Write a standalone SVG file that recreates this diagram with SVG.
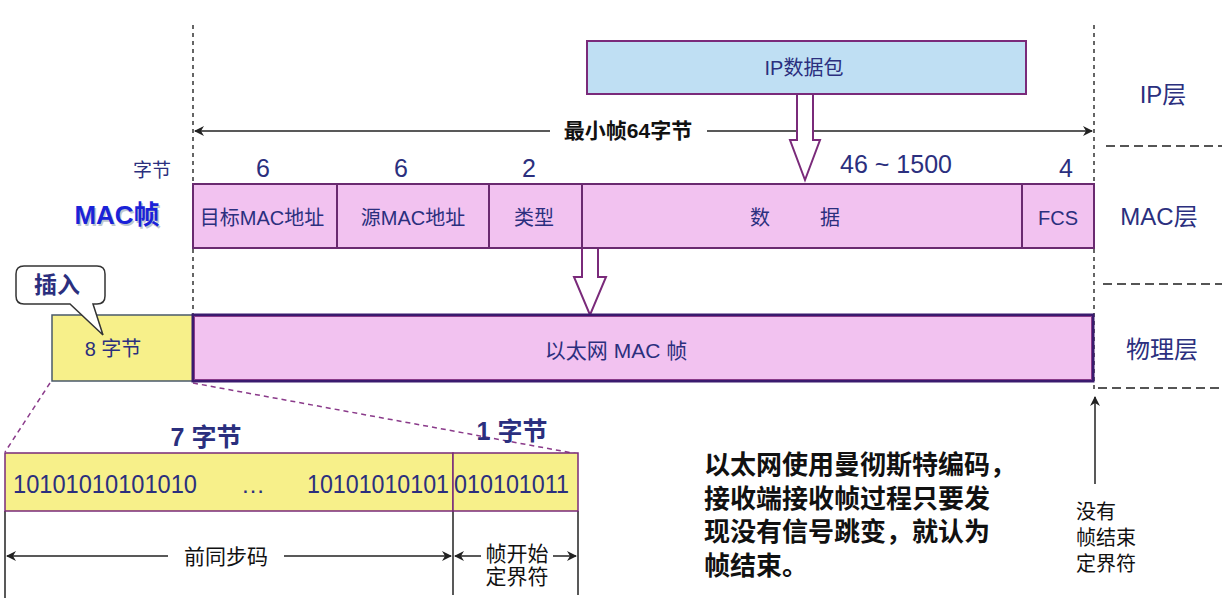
<svg xmlns="http://www.w3.org/2000/svg" width="1224" height="615" viewBox="0 0 1224 615">
<defs>
<style>
.t{font-family:"Liberation Sans","Noto Sans CJK SC",sans-serif;fill:#2b2f7e;}
.cell{fill:#f2c2f0;stroke:#6a2a70;stroke-width:2;}
.yel{fill:#f7f08a;stroke:#4a5a6a;stroke-width:1.5;}
.dash{stroke:#333;stroke-width:1.5;stroke-dasharray:4,4;fill:none;}
.hdash{stroke:#555;stroke-width:2;stroke-dasharray:9,5;fill:none;}
.pdash{stroke:#8a3a8a;stroke-width:1.5;stroke-dasharray:5,4;fill:none;}
.ln{stroke:#222;stroke-width:1.5;fill:none;}
.hollow{fill:#fff;stroke:#7a2a7a;stroke-width:2;}
.k{font-family:"Liberation Sans","Noto Sans CJK SC",sans-serif;fill:#111;}
</style>
<marker id="ah" viewBox="0 0 10 10" refX="9" refY="5" markerWidth="10" markerHeight="10" markerUnits="userSpaceOnUse" orient="auto-start-reverse">
<path d="M0,0 L10,5 L0,10 L3,5 Z" fill="#222"/>
</marker>
</defs>

<g id="guides">
<line class="dash" x1="193" y1="25" x2="193" y2="315"/>
<line class="dash" x1="1094" y1="25" x2="1094" y2="390"/>
<line class="hdash" x1="1106" y1="146" x2="1222" y2="146"/>
<line class="hdash" x1="1103" y1="284" x2="1222" y2="284"/>
<line class="hdash" x1="1098" y1="388" x2="1222" y2="388"/>
</g>

<g id="layer-labels">
<text class="t" x="1163" y="103" font-size="24" text-anchor="middle">IP层</text>
<text class="t" x="1159" y="225" font-size="24" text-anchor="middle">MAC层</text>
<text class="t" x="1162" y="358" font-size="24" text-anchor="middle">物理层</text>
</g>

<g id="ip-packet">
<rect x="587" y="41" width="439" height="53" fill="#bfdff3" stroke="#7a2a7a" stroke-width="2"/>
<text class="t" x="804" y="75" font-size="20" text-anchor="middle">IP数据包</text>
</g>

<g id="connectors">
<line class="ln" x1="195" y1="131" x2="550" y2="131" marker-start="url(#ah)"/>
<line class="ln" x1="707" y1="131" x2="1092" y2="131" marker-end="url(#ah)"/>
<path class="hollow" d="M797,94 L813,94 L813,140 L820,140 L805,180 L790,140 L797,140 Z"/>
<path class="hollow" d="M582,248 L598,248 L598,277 L606,277 L590,315 L574,277 L582,277 Z"/>
<line class="pdash" x1="50" y1="383" x2="5" y2="452"/>
<line class="pdash" x1="193" y1="383" x2="578" y2="454"/>
<line class="ln" x1="1095" y1="484" x2="1095" y2="397" marker-end="url(#ah)"/>
<line class="ln" x1="5" y1="511" x2="5" y2="598"/>
<line class="ln" x1="453" y1="511" x2="453" y2="595"/>
<line class="ln" x1="578" y1="511" x2="578" y2="595"/>
<line class="ln" x1="7" y1="556" x2="168" y2="556" marker-start="url(#ah)"/>
<line class="ln" x1="284" y1="556" x2="451" y2="556" marker-end="url(#ah)"/>
<line class="ln" x1="455" y1="556" x2="481" y2="556" marker-start="url(#ah)"/>
<line class="ln" x1="553" y1="556" x2="576" y2="556" marker-end="url(#ah)"/>
</g>

<g id="min-frame-label">
<text class="k" x="628" y="138" font-size="21" font-weight="bold" text-anchor="middle">最小帧64字节</text>
</g>

<g id="byte-counts">
<text class="t" x="152" y="177" font-size="19" text-anchor="middle">字节</text>
<text class="t" x="263" y="177" font-size="25" text-anchor="middle">6</text>
<text class="t" x="401" y="177" font-size="25" text-anchor="middle">6</text>
<text class="t" x="529" y="177" font-size="25" text-anchor="middle">2</text>
<text class="t" x="896" y="173" font-size="25" text-anchor="middle">46 ~ 1500</text>
<text class="t" x="1066" y="177" font-size="25" text-anchor="middle">4</text>
</g>

<g id="mac-frame-label">
<text x="118.5" y="225.5" font-size="26" font-weight="bold" text-anchor="middle" font-family="Liberation Sans, Noto Sans CJK SC, sans-serif" fill="#8899aa" opacity="0.55">MAC帧</text>
<text x="117" y="224" font-size="26" font-weight="bold" text-anchor="middle" font-family="Liberation Sans, Noto Sans CJK SC, sans-serif" fill="#1a22d8">MAC帧</text>
</g>

<g id="mac-frame">
<rect class="cell" x="193" y="184" width="144" height="64"/>
<rect class="cell" x="337" y="184" width="152" height="64"/>
<rect class="cell" x="489" y="184" width="93" height="64"/>
<rect class="cell" x="582" y="184" width="440" height="64"/>
<rect class="cell" x="1022" y="184" width="72" height="64"/>
<text class="t" x="262" y="225" font-size="20" text-anchor="middle">目标MAC地址</text>
<text class="t" x="413" y="225" font-size="20" text-anchor="middle">源MAC地址</text>
<text class="t" x="534" y="225" font-size="20" text-anchor="middle">类型</text>
<text class="t" x="760" y="225" font-size="20" text-anchor="middle">数</text>
<text class="t" x="830" y="225" font-size="20" text-anchor="middle">据</text>
<text class="t" x="1058" y="225" font-size="20" text-anchor="middle">FCS</text>
</g>

<g id="preamble-8">
<rect class="yel" x="52" y="315" width="141" height="66"/>
<text class="t" x="113" y="356" font-size="20" text-anchor="middle">8 字节</text>
</g>

<g id="callout">
<path d="M24,266 L97,266 Q105,266 105,274 L105,296 Q105,304 97,304 L93,304 L103,335 L70,304 L24,304 Q16,304 16,296 L16,274 Q16,266 24,266 Z" fill="#fff" stroke="#333" stroke-width="1.5"/>
<text class="t" x="57" y="293" font-size="23" font-weight="bold" text-anchor="middle">插入</text>
</g>

<g id="ethernet-mac-frame">
<rect x="193" y="315" width="900" height="66" fill="#f2c2f0" stroke="#3a1a6e" stroke-width="3"/>
<rect x="194.5" y="316.5" width="897" height="63" fill="none" stroke="#8a3a8a" stroke-width="1"/>
<text class="t" x="616" y="358" font-size="21" text-anchor="middle">以太网 MAC 帧</text>
</g>

<g id="preamble-detail">
<rect x="5" y="453" width="448" height="58" fill="#f7f08a" stroke="#7a2a7a" stroke-width="1.5"/>
<rect x="453" y="453" width="125" height="58" fill="#f7f08a" stroke="#7a2a7a" stroke-width="1.5"/>
<text class="t" x="206" y="446" font-size="25" font-weight="bold" text-anchor="middle">7 字节</text>
<text class="t" x="512" y="440" font-size="25" font-weight="bold" text-anchor="middle">1 字节</text>
<text class="t" x="13" y="493" font-size="25" textLength="184" lengthAdjust="spacingAndGlyphs">10101010101010</text>
<text class="t" x="253" y="493" font-size="24" text-anchor="middle">…</text>
<text class="t" x="307" y="493" font-size="25" textLength="142" lengthAdjust="spacingAndGlyphs">10101010101</text>
<text class="t" x="454" y="493" font-size="25" textLength="115" lengthAdjust="spacingAndGlyphs">010101011</text>
<text class="k" x="226" y="564" font-size="21" text-anchor="middle">前同步码</text>
<text class="k" x="517" y="561" font-size="21" text-anchor="middle">帧开始</text>
<text class="k" x="517" y="584" font-size="21" text-anchor="middle">定界符</text>
</g>

<g id="note">
<text class="k" x="704" y="474" font-size="26" font-weight="bold">以太网使用曼彻斯特编码，</text>
<text class="k" x="704" y="508" font-size="26" font-weight="bold">接收端接收帧过程只要发</text>
<text class="k" x="704" y="541" font-size="26" font-weight="bold">现没有信号跳变，就认为</text>
<text class="k" x="704" y="575" font-size="26" font-weight="bold">帧结束。</text>
</g>

<g id="no-end-delimiter">
<text class="k" x="1076" y="519" font-size="20">没有</text>
<text class="k" x="1076" y="545" font-size="20">帧结束</text>
<text class="k" x="1076" y="571" font-size="20">定界符</text>
</g>
</svg>
